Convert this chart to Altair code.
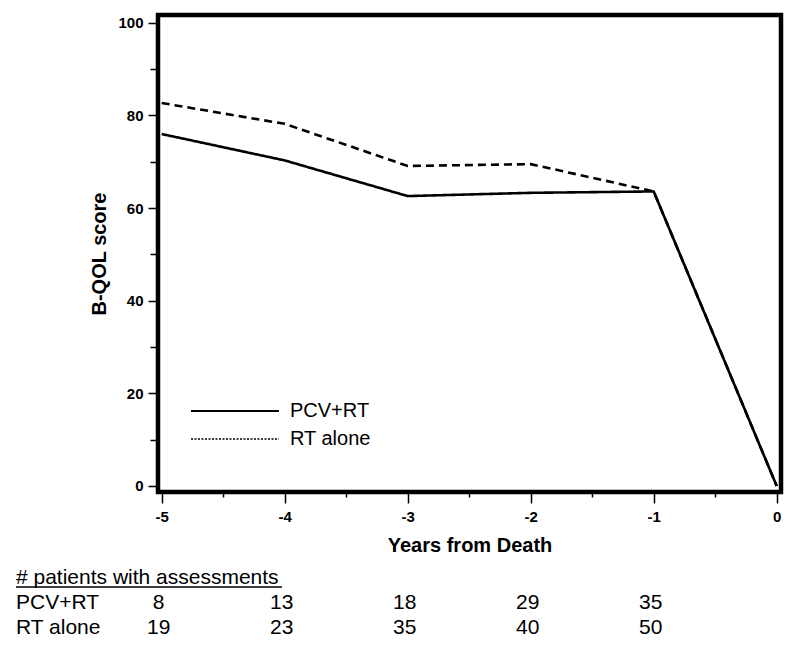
import altair as alt
import pandas as pd

years = [-5, -4, -3, -2, -1, 0]
pcv_rt = [76.0, 70.3, 62.6, 63.3, 63.6, 0.0]
rt_alone = [82.7, 78.2, 69.1, 69.5, 63.6, 0.0]
series_names = ["PCV+RT", "RT alone"]

count_years = [-5, -4, -3, -2, -1]
pcv_n = [8, 13, 18, 29, 35]
rt_n = [19, 23, 35, 40, 50]

x_major = [-5, -4, -3, -2, -1, 0]
x_minor = [-4.5, -3.5, -2.5, -1.5, -0.5]
y_major = [0, 20, 40, 60, 80, 100]
y_minor = [10, 30, 50, 70, 90]

FONT = "Liberation Sans"

lines_df = pd.DataFrame({
    "year": years * 2,
    "score": pcv_rt + rt_alone,
    "series": [series_names[0]] * len(years) + [series_names[1]] * len(years),
})
counts_df = pd.DataFrame({
    "year": count_years * 2,
    "n": pcv_n + rt_n,
    "row": [series_names[0]] * len(count_years) + [series_names[1]] * len(count_years),
})

xscale = alt.Scale(domain=[-5.03, 0.035], nice=False, zero=False)
yscale = alt.Scale(domain=[-1.3, 101.7], nice=False, zero=False)

axis_common = dict(
    domain=False, grid=False, tickColor="black", tickWidth=1.5,
    labelFont=FONT, labelFontWeight="bold", labelFontSize=15, labelColor="black",
    titleFont=FONT, titleFontWeight="bold", titleFontSize=20, titleColor="black",
    labelExpr="'' + datum.value",
)

lines = alt.Chart(lines_df).mark_line(color="black", strokeWidth=2.6).encode(
    x=alt.X("year:Q", scale=xscale,
            axis=alt.Axis(values=x_major, tickSize=11, labelPadding=6,
                          title="Years from Death", titlePadding=11, orient="bottom",
                          **axis_common)),
    y=alt.Y("score:Q", scale=yscale,
            axis=alt.Axis(values=y_major, tickSize=10, labelPadding=5,
                          title="B-QOL score", titlePadding=8, orient="left",
                          **axis_common)),
    strokeDash=alt.StrokeDash("series:N", scale=alt.Scale(domain=series_names, range=[[1, 0], [8, 5]]),
                              legend=None),
)

minor = alt.Chart(lines_df).mark_line(opacity=0).encode(
    x=alt.X("year:Q", scale=xscale,
            axis=alt.Axis(values=x_minor, tickSize=5, labels=False, title=None, orient="bottom",
                          domain=False, grid=False, tickColor="black", tickWidth=1.5)),
    y=alt.Y("score:Q", scale=yscale,
            axis=alt.Axis(values=y_minor, tickSize=8, labels=False, title=None, orient="left",
                          domain=False, grid=False, tickColor="black", tickWidth=1.5)),
)

# legend (drawn inside plot)
leg_df = pd.DataFrame({"series": series_names})
leg_solid = alt.Chart(leg_df.iloc[[0]]).mark_rule(color="black", strokeWidth=2).encode(
    x=alt.value(33), x2=alt.value(121), y=alt.value(396))
leg_dot = alt.Chart(leg_df.iloc[[1]]).mark_rule(color="black", strokeWidth=1.5, strokeDash=[2, 1.5]).encode(
    x=alt.value(33), x2=alt.value(121), y=alt.value(424))
leg_text1 = alt.Chart(leg_df.iloc[[0]]).mark_text(
    align="left", baseline="middle", font=FONT, fontSize=20, color="black").encode(
    x=alt.value(132), y=alt.value(396), text="series:N")
leg_text2 = alt.Chart(leg_df.iloc[[1]]).mark_text(
    align="left", baseline="middle", font=FONT, fontSize=20, color="black").encode(
    x=alt.value(132), y=alt.value(424), text="series:N")

# patients table below
header_df = pd.DataFrame({"t": ["# patients with assessments"]})
header = alt.Chart(header_df).mark_text(
    align="left", baseline="middle", font=FONT, fontSize=21, color="black").encode(
    x=alt.value(-142), y=alt.value(563), text="t:N")
underline = alt.Chart(header_df).mark_rule(color="black", strokeWidth=1.5).encode(
    x=alt.value(-142), x2=alt.value(124), y=alt.value(572))

row_df = pd.DataFrame({"row": series_names})
row1_label = alt.Chart(row_df.iloc[[0]]).mark_text(
    align="left", baseline="middle", font=FONT, fontSize=21, color="black").encode(
    x=alt.value(-142), y=alt.value(588), text="row:N")
row2_label = alt.Chart(row_df.iloc[[1]]).mark_text(
    align="left", baseline="middle", font=FONT, fontSize=21, color="black").encode(
    x=alt.value(-142), y=alt.value(613), text="row:N")

row1_nums = alt.Chart(counts_df[counts_df.row == series_names[0]]).mark_text(
    align="center", baseline="middle", font=FONT, fontSize=21, color="black", dx=-3).encode(
    x=alt.X("year:Q", scale=xscale, axis=None), y=alt.value(588), text="n:Q")
row2_nums = alt.Chart(counts_df[counts_df.row == series_names[1]]).mark_text(
    align="center", baseline="middle", font=FONT, fontSize=21, color="black", dx=-3).encode(
    x=alt.X("year:Q", scale=xscale, axis=None), y=alt.value(613), text="n:Q")

chart = alt.layer(
    lines, minor, leg_solid, leg_dot, leg_text1, leg_text2,
    header, underline, row1_label, row2_label, row1_nums, row2_nums,
).resolve_axis(x="independent", y="independent").properties(
    width=623, height=477,
    padding={"left": 7, "top": 7, "right": 5, "bottom": 5},
).configure(
    background="white"
).configure_view(
    stroke="black", strokeWidth=4.5
)

chart.save("out.html", embed_options={"renderer": "svg", "actions": False})
